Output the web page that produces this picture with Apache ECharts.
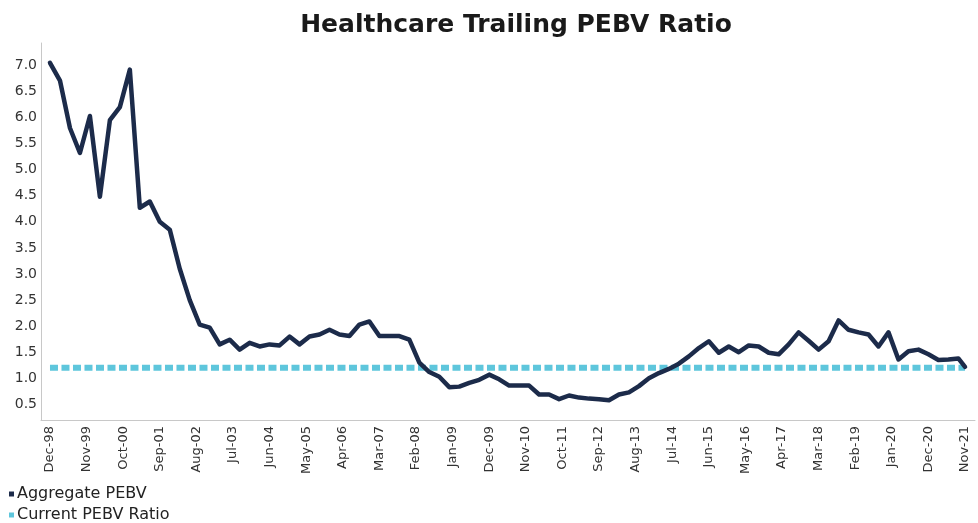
<!DOCTYPE html>
<html>
<head>
<meta charset="utf-8">
<script src="https://cdn.jsdelivr.net/npm/echarts@6/dist/echarts.min.js"></script>
<style>
html,body{margin:0;padding:0;background:#fff;}
#chart{width:978px;height:523px;}
</style>
</head>
<body>
<div id="chart"></div>
<script>
// Tick labels shown on the x axis (every 11 months)
const tickLabels = ['Dec-98','Nov-99','Oct-00','Sep-01','Aug-02','Jul-03','Jun-04','May-05','Apr-06','Mar-07','Feb-08','Jan-09','Dec-09','Nov-10','Oct-11','Sep-12','Aug-13','Jul-14','Jun-15','May-16','Apr-17','Mar-18','Feb-19','Jan-20','Dec-20','Nov-21'];
const yTicks = [0.5,1.0,1.5,2.0,2.5,3.0,3.5,4.0,4.5,5.0,5.5,6.0,6.5,7.0];

// Aggregate PEBV observations
const pebvDates = ['Dec-98','Mar-99','Jun-99','Sep-99','Dec-99','Mar-00','Jun-00','Sep-00','Dec-00','Mar-01','Jun-01','Sep-01','Dec-01','Mar-02','Jun-02','Sep-02','Dec-02','Mar-03','Jun-03','Sep-03','Dec-03','Mar-04','Jun-04','Sep-04','Dec-04','Mar-05','Jun-05','Sep-05','Dec-05','Mar-06','Jun-06','Sep-06','Dec-06','Mar-07','Jun-07','Sep-07','Dec-07','Mar-08','Jun-08','Sep-08','Dec-08','Mar-09','Jun-09','Sep-09','Dec-09','Mar-10','Jun-10','Sep-10','Dec-10','Mar-11','Jun-11','Sep-11','Dec-11','Mar-12','Jun-12','Sep-12','Dec-12','Mar-13','Jun-13','Sep-13','Dec-13','Mar-14','Jun-14','Sep-14','Dec-14','Mar-15','Jun-15','Sep-15','Dec-15','Mar-16','Jun-16','Sep-16','Dec-16','Mar-17','Jun-17','Sep-17','Dec-17','Mar-18','Jun-18','Sep-18','Dec-18','Mar-19','Jun-19','Sep-19','Dec-19','Mar-20','Jun-20','Sep-20','Dec-20','Mar-21','Jun-21','Sep-21','Nov-21'];
const pebvValues = [7.05,6.71,5.8,5.32,6.03,4.48,5.95,6.2,6.92,4.27,4.39,4.0,3.85,3.1,2.5,2.03,1.97,1.65,1.74,1.55,1.68,1.61,1.65,1.63,1.8,1.65,1.8,1.84,1.93,1.84,1.81,2.03,2.09,1.81,1.81,1.81,1.74,1.3,1.12,1.03,0.83,0.84,0.91,0.97,1.07,0.98,0.86,0.86,0.86,0.69,0.69,0.6,0.67,0.63,0.61,0.6,0.58,0.69,0.73,0.85,1.0,1.1,1.18,1.28,1.42,1.58,1.71,1.49,1.61,1.5,1.63,1.61,1.49,1.46,1.65,1.88,1.72,1.55,1.71,2.11,1.93,1.88,1.84,1.61,1.88,1.36,1.52,1.55,1.46,1.35,1.36,1.38,1.22];

// Current PEBV ratio (horizontal reference)
const currentDates = ['Dec-98','Nov-21'];
const currentValue = 1.2;

const monthNames = ['Jan','Feb','Mar','Apr','May','Jun','Jul','Aug','Sep','Oct','Nov','Dec'];
function monthIndex(s){
  const [m, y] = s.split('-');
  const yy = parseInt(y,10);
  const year = yy >= 50 ? 1900 + yy : 2000 + yy;
  return (year - 1998) * 12 + monthNames.indexOf(m) - 11;
}
const tickIdx = tickLabels.map(monthIndex);
const labelByIdx = {};
tickLabels.forEach((l,i)=>{ labelByIdx[tickIdx[i]] = l; });

const font = '"DejaVu Sans", sans-serif';
const legendBase = {
  orient: 'vertical', left: 9, padding: 0,
  icon: 'rect', itemWidth: 5, itemHeight: 5,
  textStyle: { fontFamily: font, fontSize: 16, color: '#222', padding: [0,0,0,-2] }
};
const chart = echarts.init(document.getElementById('chart'));
chart.setOption({
  animation: false,
  backgroundColor: '#ffffff',
  title: {
    text: 'Healthcare Trailing PEBV Ratio',
    left: 511, top: 8, textAlign: 'center',
    textStyle: { fontFamily: font, fontSize: 25, fontWeight: 'bold', color: '#1a1a1a' }
  },
  legend: [
    Object.assign({}, legendBase, { top: 486, data: ['Aggregate PEBV'] }),
    Object.assign({}, legendBase, { top: 507, data: ['Current PEBV Ratio'] })
  ],
  grid: { left: 41, right: 3, top: 43, bottom: 103, containLabel: false },
  xAxis: {
    type: 'value', min: -2.7, max: 278,
    axisLine: { show: true, lineStyle: { color: '#c8c8c8', width: 1 } },
    axisTick: { show: false },
    splitLine: { show: false },
    axisLabel: {
      customValues: tickIdx,
      rotate: 90, margin: 6,
      fontFamily: font, fontSize: 13, color: '#333',
      formatter: v => labelByIdx[Math.round(v)] || ''
    }
  },
  yAxis: {
    type: 'value', min: 0.2, max: 7.43,
    axisLine: { show: true, onZero: false, lineStyle: { color: '#c8c8c8', width: 1 } },
    axisTick: { show: false },
    splitLine: { show: false },
    axisLabel: {
      customValues: yTicks, margin: 4,
      fontFamily: font, fontSize: 14, color: '#333',
      formatter: v => v.toFixed(1)
    }
  },
  series: [
    {
      name: 'Current PEBV Ratio', type: 'line', symbol: 'none', z: 2,
      itemStyle: { color: '#5ec6dc' },
      lineStyle: { color: '#5ec6dc', width: 6, type: [8, 3.5] },
      data: currentDates.map(d => [monthIndex(d), currentValue])
    },
    {
      name: 'Aggregate PEBV', type: 'line', symbol: 'none', z: 3,
      itemStyle: { color: '#1c2b4a' },
      lineStyle: { color: '#1c2b4a', width: 4.5, join: 'round', cap: 'round' },
      data: pebvDates.map((d,i) => [monthIndex(d), pebvValues[i]])
    }
  ]
});
</script>
</body>
</html>
